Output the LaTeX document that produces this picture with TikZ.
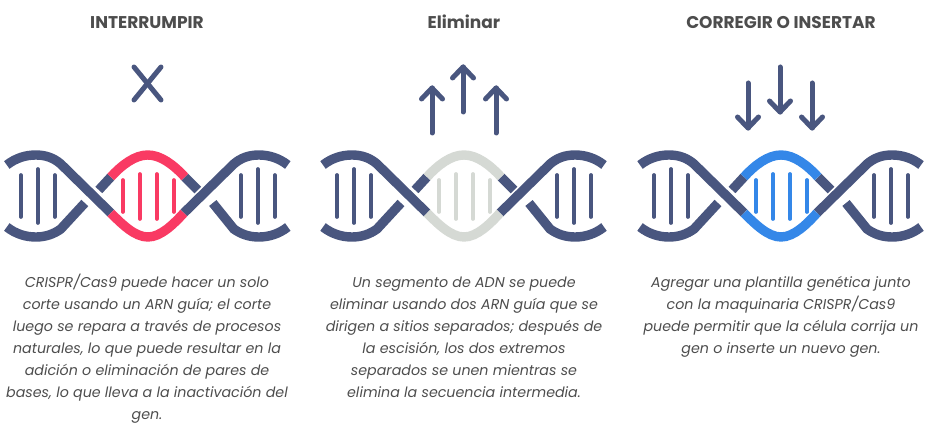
\documentclass[tikz,border=0pt]{standalone}
\usepackage{fontspec}
\setmainfont{Poppins}
\definecolor{strandblue}{HTML}{49567F}
\definecolor{cutred}{HTML}{F93A63}
\definecolor{gonegray}{HTML}{D5D9D4}
\definecolor{fixblue}{HTML}{3487E8}
\definecolor{textgray}{HTML}{4D4D4D}
\tikzset{
  strand/.style={line width=9.4pt,strandblue},
  rung/.style={line width=3.7pt,line cap=round},
  signline/.style={line width=5pt,strandblue,line cap=round,line join=round},
  heading/.style={font=\bfseries\fontsize{17}{20}\selectfont,text=textgray,inner sep=0pt,anchor=base},
  blurb/.style={font=\itshape\fontsize{14.25}{22}\selectfont,text=textgray,align=center,anchor=north,inner sep=0pt}
}
% one helix, #1 is the left offset and #2 the colour of the middle part
\newcommand{\dnahelix}[2]{
  \begin{scope}[xshift=#1]
    % Outer strands
    \draw[strand] (6,165) .. controls (15,158) and (25,155) .. (35,155) .. controls (45,155) and (53,158) .. (60,164) -- (110,213);
    \draw[strand] (6,227) .. controls (15,234) and (25,237) .. (35,237) .. controls (45,237) and (53,234) .. (60,229) -- (84,203);
    \draw[strand] (287,165) .. controls (278,158) and (268,155) .. (258,155) .. controls (248,155) and (240,158) .. (233,164) -- (183,213);
    \draw[strand] (287,227) .. controls (278,234) and (268,237) .. (258,237) .. controls (248,237) and (240,234) .. (233,229) -- (212,203);
    \draw[strand] (98,190) -- (110,177);
    \draw[strand] (197,190) -- (184,177);
    % Middle part
    \draw[strand,#2] (110,177) .. controls (121,165) and (134,155) .. (147,155) .. controls (160,155) and (173,165) .. (184,177);
    \draw[strand,#2] (110,213) .. controls (121,224) and (134,237) .. (147,237) .. controls (160,237) and (173,224) .. (183,213);
    % Rungs
    \foreach \x/\a/\b in {20/175/217,37/169/223,54/175/217,240/175/217,257/169/223,274/175/217}
      \draw[rung,strandblue] (\x,\a) -- (\x,\b);
    \foreach \x/\a/\b in {122/180/212,139/174/219,156/174/219,173/180/212}
      \draw[rung,#2] (\x,\a) -- (\x,\b);
  \end{scope}
}
\begin{document}
\begin{tikzpicture}[x=1pt,y=-1pt]
  \useasboundingbox (0,0) rectangle (928,438);

  % Headings
  \node[heading] (headcut) at (147,29) {INTERRUMPIR};
  \node[heading] (headdel) at (464,29) {Eliminar};
  \node[heading] (headfix) at (781,29) {CORREGIR O INSERTAR};

  % Helices
  \dnahelix{0.8}{cutred}
  \dnahelix{317}{gonegray}
  \dnahelix{634}{fixblue}

  % Cross
  \draw[signline] (134,67) -- (161,100);
  \draw[signline] (161,67) -- (134,100);

  % Arrows up
  \foreach \x/\a/\b in {432/133/88,463/112/67,496/133/88} {
    \draw[signline] (\x,\a) -- (\x,\b);
    \draw[signline] (\x-10.5,\b+11) -- (\x,\b) -- (\x+10.5,\b+11);
  }
  % Arrows down
  \foreach \x/\a/\b in {748/83/128,780/67/112,812/83/128} {
    \draw[signline] (\x,\a) -- (\x,\b);
    \draw[signline] (\x-10.5,\b-11) -- (\x,\b) -- (\x+10.5,\b-11);
  }

  % Texts
  \node[blurb] (textcut) at (147,271.5) {\strut CRISPR/Cas9 puede hacer un solo\\corte usando un ARN guía; el corte\\luego se repara a través de procesos\\naturales, lo que puede resultar en la\\adición o eliminación de pares de\\bases, lo que lleva a la inactivación del\\gen.};
  \node[blurb] (textdel) at (464,271.5) {\strut Un segmento de ADN se puede\\eliminar usando dos ARN guía que se\\dirigen a sitios separados; después de\\la escisión, los dos extremos\\separados se unen mientras se\\elimina la secuencia intermedia.};
  \node[blurb] (textfix) at (781,271.5) {\strut Agregar una plantilla genética junto\\con la maquinaria CRISPR/Cas9\\puede permitir que la célula corrija un\\gen o inserte un nuevo gen.};
\end{tikzpicture}
\end{document}
